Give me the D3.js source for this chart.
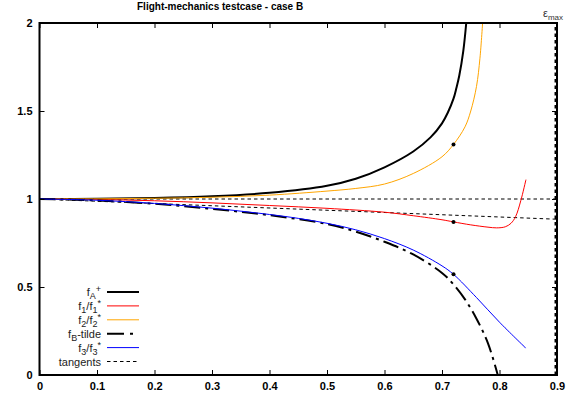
<!DOCTYPE html>
<html>
<head>
<meta charset="utf-8">
<script src="https://cdn.jsdelivr.net/npm/d3@7/dist/d3.min.js"></script>
<style>
body{margin:0;background:#fff;}
svg{display:block;font-family:"Liberation Sans",Arial,sans-serif;}
</style>
</head>
<body>
<svg id="chart" width="568" height="396"></svg>
<script>
// values
var xTicks = [0, 0.1, 0.2, 0.3, 0.4, 0.5, 0.6, 0.7, 0.8, 0.9];
var yTicks = [0, 0.5, 1, 1.5, 2];

var fAx = [0, 0.1, 0.2, 0.3, 0.4, 0.5, 0.55, 0.6, 0.65, 0.68, 0.7, 0.71, 0.72, 0.725, 0.73, 0.737, 0.743];
var fAy = [1, 1.001, 1.005, 1.015, 1.035, 1.075, 1.115, 1.18, 1.27, 1.35, 1.43, 1.49, 1.57, 1.63, 1.70, 1.84, 2.03];

var f1x = [0, 0.1, 0.2, 0.3, 0.4, 0.5, 0.6, 0.65, 0.7, 0.72, 0.75, 0.78, 0.795, 0.81, 0.82, 0.828, 0.837, 0.846];
var f1y = [1, 0.997, 0.99, 0.978, 0.963, 0.947, 0.925, 0.905, 0.882, 0.87, 0.853, 0.84, 0.836, 0.842, 0.862, 0.9, 0.99, 1.11];

var f2x = [0, 0.1, 0.2, 0.3, 0.4, 0.5, 0.55, 0.6, 0.65, 0.7, 0.72, 0.74, 0.75, 0.76, 0.766, 0.771];
var f2y = [1, 1.001, 1.004, 1.01, 1.022, 1.045, 1.06, 1.085, 1.145, 1.24, 1.31, 1.41, 1.5, 1.64, 1.8, 2.02];

var fBx = [0, 0.1, 0.2, 0.3, 0.4, 0.5, 0.55, 0.6, 0.65, 0.7, 0.72, 0.74, 0.76, 0.78, 0.797];
var fBy = [1, 0.992, 0.973, 0.944, 0.908, 0.858, 0.815, 0.757, 0.685, 0.58, 0.515, 0.43, 0.32, 0.18, 0];

var f3x = [0, 0.1, 0.2, 0.3, 0.4, 0.45, 0.5, 0.55, 0.6, 0.65, 0.7, 0.72, 0.76, 0.8, 0.846];
var f3y = [1, 0.993, 0.975, 0.948, 0.912, 0.89, 0.862, 0.825, 0.775, 0.71, 0.62, 0.572, 0.44, 0.30, 0.152];

var tanX = [0, 0.9];
var tanFlat = [1, 1];
var tanSlope = [1, 0.885];

var markX = 0.72;
var markY = [1.31, 0.87, 0.572];   // f2/f2*, f1/f1*, f3/f3*
var epsMax = 0.897;

var svg = d3.select("#chart");
var pLeft = 39.5, pRight = 557, pTop = 23, pBottom = 375;

var x = d3.scaleLinear().domain([0, 0.9]).range([pLeft, pRight]);
var y = d3.scaleLinear().domain([0, 2]).range([pBottom, pTop]);

svg.append("defs").append("clipPath").attr("id", "plotclip")
    .append("rect")
    .attr("x", pLeft).attr("y", pTop)
    .attr("width", pRight - pLeft).attr("height", pBottom - pTop);

function pairs(xs, ys){
    return xs.map(function(v, i){ return [v, ys[i]]; });
}

var line = d3.line()
    .x(function(d){ return x(d[0]); })
    .y(function(d){ return y(d[1]); })
    .curve(d3.curveCatmullRom.alpha(0.5));

var plot = svg.append("g").attr("clip-path", "url(#plotclip)");

// tangents
plot.append("path").attr("d", line(pairs(tanX, tanFlat)))
    .attr("fill", "none").attr("stroke", "#000").attr("stroke-width", 1)
    .attr("stroke-dasharray", "3.5,3");
plot.append("path").attr("d", line(pairs(tanX, tanSlope)))
    .attr("fill", "none").attr("stroke", "#000").attr("stroke-width", 1)
    .attr("stroke-dasharray", "3.5,3");

// epsilon max
plot.append("line")
    .attr("x1", x(epsMax)).attr("x2", x(epsMax))
    .attr("y1", y(0)).attr("y2", y(2))
    .attr("stroke", "#000").attr("stroke-width", 1.5)
    .attr("stroke-dasharray", "3.5,3");

var series = [
    {xs: fAx, ys: fAy, color: "#000", width: 2, dash: null},
    {xs: f1x, ys: f1y, color: "#ff0000", width: 1, dash: null},
    {xs: f2x, ys: f2y, color: "#ffa500", width: 1, dash: null},
    {xs: fBx, ys: fBy, color: "#000", width: 2, dash: "16,5,3,5"},
    {xs: f3x, ys: f3y, color: "#0000ff", width: 1, dash: null}
];

series.forEach(function(s){
    plot.append("path")
        .attr("d", line(pairs(s.xs, s.ys)))
        .attr("fill", "none")
        .attr("stroke", s.color)
        .attr("stroke-width", s.width)
        .attr("stroke-dasharray", s.dash);
});

plot.selectAll(".mark")
    .data(markY)
    .enter()
    .append("circle")
    .attr("class", "mark")
    .attr("cx", x(markX))
    .attr("cy", function(d){ return y(d); })
    .attr("r", 2)
    .attr("fill", "#000");

// axes with inside ticks
var fmt = function(d){ return String(d); };
function styleAxis(g){
    g.select(".domain").remove();
    g.selectAll(".tick line").attr("stroke", "#000");
    g.selectAll("text").attr("fill", "#000")
        .style("font-family", "'Liberation Sans',Arial,sans-serif")
        .style("font-size", "11px").style("font-weight", "bold");
}

svg.append("g").attr("transform", "translate(0," + pBottom + ")")
    .call(d3.axisBottom(x).tickValues(xTicks).tickFormat(fmt).tickSizeInner(-5).tickSizeOuter(0).tickPadding(7))
    .call(styleAxis);
svg.append("g").attr("transform", "translate(" + pLeft + ",0)")
    .call(d3.axisLeft(y).tickValues(yTicks).tickFormat(fmt).tickSizeInner(-5).tickSizeOuter(0).tickPadding(7))
    .call(styleAxis);
svg.append("g").attr("transform", "translate(0," + pTop + ")")
    .call(d3.axisTop(x).tickValues(xTicks).tickFormat("").tickSizeInner(-5).tickSizeOuter(0))
    .call(styleAxis);
svg.append("g").attr("transform", "translate(" + pRight + ",0)")
    .call(d3.axisRight(y).tickValues(yTicks).tickFormat("").tickSizeInner(-5).tickSizeOuter(0))
    .call(styleAxis);

// frame
svg.append("rect")
    .attr("x", pLeft).attr("y", pTop)
    .attr("width", pRight - pLeft).attr("height", pBottom - pTop)
    .attr("fill", "none").attr("stroke", "#000").attr("stroke-width", 2);

// title
svg.append("text")
    .attr("x", 137).attr("y", 10)
    .style("font-size", "10px").style("font-weight", "bold")
    .text("Flight-mechanics testcase - case B");

// epsilon max label
var eps = svg.append("text").attr("x", 543).attr("y", 17).style("font-size", "11px").attr("fill", "#333");
eps.append("tspan").text("ε");
eps.append("tspan").attr("dy", 3).style("font-size", "8px").text("max");

// legend
function rich(sel, parts){
    var off = 0;
    parts.forEach(function(p){
        var t = p[1] === "sub" ? 3 : (p[1] === "sup" ? -4 : 0);
        sel.append("tspan")
            .attr("dy", t - off)
            .style("font-size", p[1] ? "9px" : null)
            .text(p[0]);
        off = t;
    });
}

var legend = [
    {parts: [["f"], ["A", "sub"], ["+", "sup"]], color: "#000", width: 2, dash: null},
    {parts: [["f"], ["1", "sub"], ["/f"], ["1", "sub"], ["*", "sup"]], color: "#ff0000", width: 1, dash: null},
    {parts: [["f"], ["2", "sub"], ["/f"], ["2", "sub"], ["*", "sup"]], color: "#ffa500", width: 1, dash: null},
    {parts: [["f"], ["B", "sub"], ["-tilde"]], color: "#000", width: 2, dash: "17,6,3,6"},
    {parts: [["f"], ["3", "sub"], ["/f"], ["3", "sub"], ["*", "sup"]], color: "#0000ff", width: 1, dash: null},
    {parts: [["tangents"]], color: "#000", width: 1, dash: "3.5,3"}
];

var lg = svg.append("g");
legend.forEach(function(d, i){
    var ly = 292 + i * 13.9;
    var t = lg.append("text")
        .attr("x", 101).attr("y", ly + 4)
        .attr("text-anchor", "end")
        .style("font-size", "11px")
        .attr("fill", "#222");
    rich(t, d.parts);
    lg.append("line")
        .attr("x1", 107).attr("x2", 139)
        .attr("y1", ly).attr("y2", ly)
        .attr("stroke", d.color)
        .attr("stroke-width", d.width)
        .attr("stroke-dasharray", d.dash);
});
</script>
</body>
</html>
